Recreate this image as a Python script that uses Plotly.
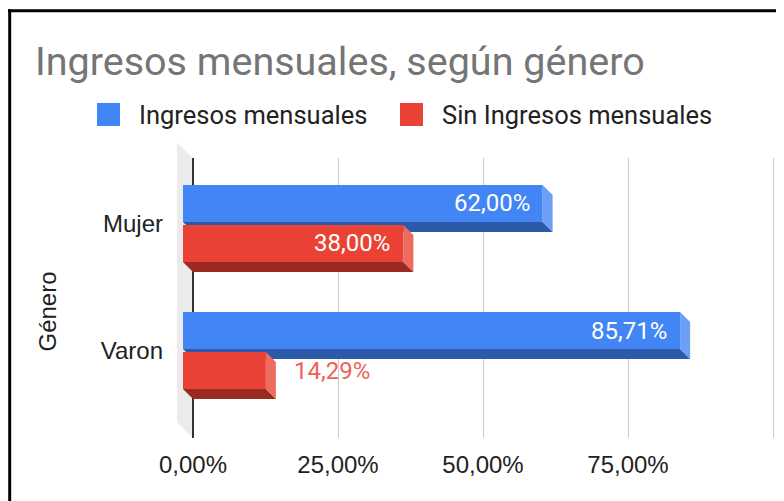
import plotly.graph_objects as go

# ---------------- data ----------------
CATEGORIES = ["Mujer", "Varon"]
SERIES_NAMES = ["Ingresos mensuales", "Sin Ingresos mensuales"]
INGRESOS = [0.62, 0.8571]
SIN_INGRESOS = [0.38, 0.1429]
X_TICK_VALUES = [0, 0.25, 0.5, 0.75, 1.0]
X_TICK_LABELS = ["0,00%", "25,00%", "50,00%", "75,00%", ""]
TITLE = "Ingresos mensuales, según género"
Y_TITLE = "Género"

# ---------------- style / geometry ----------------
PAGE_OFF = 8  # default page body margin
W, H = 784 - PAGE_OFF, 501 - PAGE_OFF


def px(x):
    return (x - PAGE_OFF) / W


def py(y):
    return 1 - (y - PAGE_OFF) / H


PLOT_L, PLOT_R, PLOT_T, PLOT_B = 177, 782, 158, 438
ZERO_PX = 193
UNIT_PX = 580
CAT0_PX = 233.5
CAT_STEP_PX = 127
DEPTH = 10

X_RANGE = [(PLOT_L - ZERO_PX) / UNIT_PX, (PLOT_R - ZERO_PX) / UNIT_PX]
Y_RANGE = [(PLOT_B - CAT0_PX) / CAT_STEP_PX, (PLOT_T - CAT0_PX) / CAT_STEP_PX]
DX = DEPTH / UNIT_PX
DY = DEPTH / CAT_STEP_PX
BAR_W = 37 / CAT_STEP_PX
OFFSETS = [-38.5 / CAT_STEP_PX, 1.5 / CAT_STEP_PX]

STYLES = [
    dict(front="#4285F4", side="#6E9FF6", bottom="#2D5AA8", label_out="#6E9FF6"),
    dict(front="#EA4335", side="#EE6B60", bottom="#9A2A22", label_out="#EE6259"),
]
SERIES_VALUES = [INGRESOS, SIN_INGRESOS]

fig = go.Figure()
positions = list(range(len(CATEGORIES)))

# 3D side faces on the back plane axes
for s, vals in enumerate(SERIES_VALUES):
    st = STYLES[s]
    for i, v in zip(positions, vals):
        yt = i + OFFSETS[s]
        yb = yt + BAR_W
        bx = [-DX, v - DX, v, 0, -DX]
        by = [yb - DY, yb - DY, yb, yb, yb - DY]
        fig.add_trace(go.Scatter(x=bx, y=by, xaxis="x", yaxis="y", mode="lines",
                                 fill="toself", fillcolor=st["bottom"], line=dict(width=0),
                                 hoverinfo="skip", showlegend=False))
        rx = [v - DX, v, v, v - DX, v - DX]
        ry = [yt - DY, yt, yb, yb - DY, yt - DY]
        fig.add_trace(go.Scatter(x=rx, y=ry, xaxis="x", yaxis="y", mode="lines",
                                 fill="toself", fillcolor=st["side"], line=dict(width=0),
                                 hoverinfo="skip", showlegend=False))

# front faces
for s, vals in enumerate(SERIES_VALUES):
    fig.add_trace(go.Bar(
        x=vals, y=positions, orientation="h", xaxis="x2", yaxis="y2",
        width=BAR_W, offset=OFFSETS[s], name=SERIES_NAMES[s],
        marker=dict(color=STYLES[s]["front"], line=dict(width=0)),
        showlegend=False,
    ))

annotations = []
LABEL_INSIDE_MIN = 0.2
for s, vals in enumerate(SERIES_VALUES):
    for i, v in zip(positions, vals):
        txt = f"{v * 100:.2f}".replace(".", ",") + "%"
        yc = i + OFFSETS[s] + BAR_W / 2
        inside = v >= LABEL_INSIDE_MIN
        annotations.append(dict(
            x=v, y=yc, xref="x2", yref="y2", text=txt, showarrow=False,
            xanchor="right" if inside else "left",
            xshift=-11 if inside else 26, yanchor="middle",
            font=dict(family="Roboto", size=24,
                      color="#FFFFFF" if inside else STYLES[s]["label_out"]),
        ))

# y axis title
annotations.append(dict(x=px(47), y=py(311.5), xref="paper", yref="paper", text=Y_TITLE,
                        textangle=-90, showarrow=False, xanchor="center", yanchor="middle",
                        font=dict(family="Liberation Sans", size=24, color="#222222")))

# legend
shapes = []
LEGEND_ITEMS_X = [97, 400]
for s, name in enumerate(SERIES_NAMES):
    lx = LEGEND_ITEMS_X[s]
    shapes.append(dict(type="rect", xref="paper", yref="paper", x0=px(lx), x1=px(lx + 23),
                       y0=py(126), y1=py(103), fillcolor=STYLES[s]["front"], line=dict(width=0)))
    annotations.append(dict(x=px(lx + 40), y=py(114.5), xref="paper", yref="paper", text=name,
                            showarrow=False, xanchor="left", yanchor="middle",
                            font=dict(family="Roboto", size=25.5, color="#222222")))

# gray 3D wall
shapes.append(dict(type="path", xref="paper", yref="paper", layer="below",
                   path=f"M {px(177)},{py(143)} L {px(193)},{py(158)} L {px(193)},{py(438)} "
                        f"L {px(177)},{py(422)} Z",
                   fillcolor="#EBEBEB", line=dict(width=0)))
# black frame
shapes.append(dict(type="line", xref="paper", yref="paper", x0=px(8), x1=px(790),
                   y0=py(10.8), y1=py(10.8), line=dict(color="#000000", width=3)))
shapes.append(dict(type="line", xref="paper", yref="paper", x0=px(9.7), x1=px(9.7),
                   y0=py(9.3), y1=py(505), line=dict(color="#000000", width=3)))

fig.update_layout(
    width=W, height=H,
    margin=dict(l=0, r=0, t=0, b=0, pad=0, autoexpand=False),
    paper_bgcolor="#FFFFFF", plot_bgcolor="rgba(0,0,0,0)",
    barmode="overlay", showlegend=False,
    title=dict(text=TITLE, x=px(35), xanchor="left", y=py(61), yanchor="middle",
               automargin=False,
               font=dict(family="Roboto", size=39.5, color="#757575")),
    xaxis=dict(domain=[px(PLOT_L), px(PLOT_R)], range=X_RANGE, anchor="y",
               tickvals=X_TICK_VALUES, ticktext=X_TICK_LABELS,
               showgrid=True, gridcolor="#CCCCCC", gridwidth=1,
               zeroline=True, zerolinecolor="#333333", zerolinewidth=1.5,
               showline=False, ticks="", ticklabelstandoff=10, automargin=False,
               tickfont=dict(family="Liberation Sans", size=24, color="#222222"),
               fixedrange=True),
    yaxis=dict(domain=[py(PLOT_B), py(PLOT_T)], range=Y_RANGE, anchor="x",
               showgrid=False, zeroline=False, showticklabels=False, ticks="",
               automargin=False, fixedrange=True),
    xaxis2=dict(domain=[px(PLOT_L - DEPTH), px(PLOT_R - DEPTH)], range=X_RANGE, anchor="y2",
                visible=False, showgrid=False, zeroline=False, automargin=False,
                fixedrange=True),
    yaxis2=dict(domain=[py(PLOT_B - DEPTH), py(PLOT_T - DEPTH)], range=Y_RANGE, anchor="x2",
                tickvals=positions, ticktext=CATEGORIES, showgrid=False, zeroline=False,
                ticks="", ticklabelstandoff=3, automargin=False,
                tickfont=dict(family="Liberation Sans", size=24, color="#222222"),
                fixedrange=True),
    annotations=annotations,
    shapes=shapes,
)

fig.write_html("out.html")
